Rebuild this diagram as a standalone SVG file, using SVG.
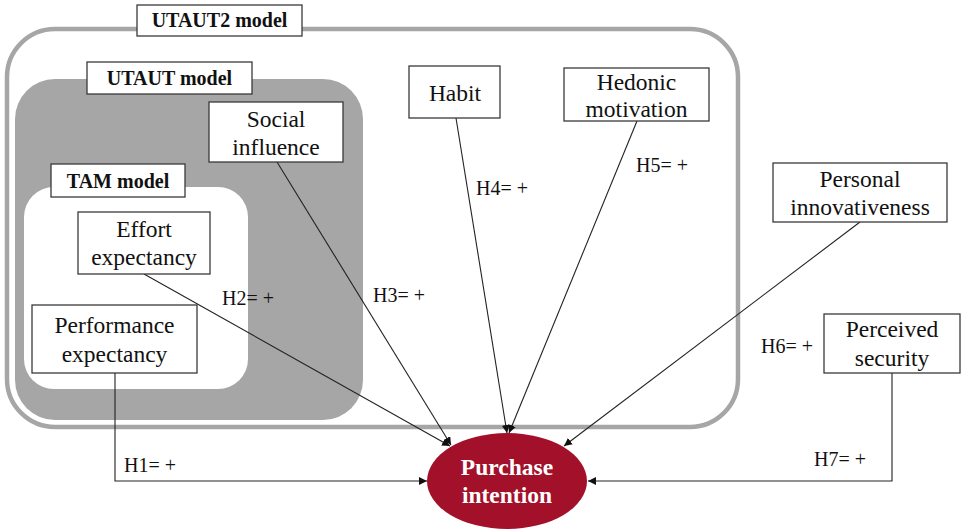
<svg xmlns="http://www.w3.org/2000/svg" width="964" height="532" viewBox="0 0 964 532">
  <defs>
    <style>
      .box { fill: #ffffff; stroke: #3a3a3a; stroke-width: 1.3; }
      .serif { font-family: "Liberation Serif", Tinos, "Times New Roman", Times, "Nimbus Roman", "DejaVu Serif", serif; }
      .lbl { font-size: 20px; font-weight: bold; fill: #111; text-anchor: middle; }
      .txt { font-size: 23.5px; fill: #111; text-anchor: middle; }
      .hyp { font-size: 20px; fill: #111; }
      .conn { fill: none; stroke: #222; stroke-width: 1.1; marker-end: url(#arrow); }
      .pi { font-size: 23.5px; font-weight: bold; fill: #ffffff; text-anchor: middle; }
    </style>
    <marker id="arrow" viewBox="0 0 10 10" refX="10" refY="5" markerWidth="8" markerHeight="8" markerUnits="userSpaceOnUse" orient="auto">
      <path d="M0,0 L10,5 L0,10 z" fill="#111"/>
    </marker>
  </defs>
  <rect width="964" height="532" fill="#ffffff"/>

  <g id="containers">
    <rect id="utaut2-frame" x="7" y="29" width="731" height="398" rx="48" ry="48" fill="none" stroke="#a6a6a6" stroke-width="4.5"/>
    <rect id="utaut-frame" x="15" y="79" width="348" height="341" rx="40" ry="40" fill="#a6a6a6"/>
    <rect id="tam-frame" x="24" y="187" width="224" height="202" rx="30" ry="30" fill="#ffffff"/>
  </g>

  <g class="serif">
  <g id="utaut2-label">
    <rect class="box" x="137" y="5" width="165" height="31"/>
    <text class="lbl" x="219.5" y="27">UTAUT2 model</text>
  </g>
  <g id="utaut-label">
    <rect class="box" x="87" y="62" width="165" height="32"/>
    <text class="lbl" x="169.5" y="85">UTAUT model</text>
  </g>
  <g id="tam-label">
    <rect class="box" x="51" y="164" width="134" height="33"/>
    <text class="lbl" x="118" y="188">TAM model</text>
  </g>

  <g id="connectors">
    <path class="conn" d="M115,373 L115,481 L427,481"/>
    <path class="conn" d="M144,274 L450,446"/>
    <path class="conn" d="M277,162 L451,445"/>
    <path class="conn" d="M456,118 L507,433"/>
    <path class="conn" d="M637,121 L509,433"/>
    <path class="conn" d="M860,222 L564,446"/>
    <path class="conn" d="M892,373 L892,481 L588,481"/>
    <text class="hyp" x="124" y="472">H1= +</text>
    <text class="hyp" x="222" y="305">H2= +</text>
    <text class="hyp" x="373" y="302">H3= +</text>
    <text class="hyp" x="476" y="195">H4= +</text>
    <text class="hyp" x="636" y="172">H5= +</text>
    <text class="hyp" x="761" y="353">H6= +</text>
    <text class="hyp" x="814" y="466">H7= +</text>
  </g>

  <g id="social-influence">
    <rect class="box" x="209" y="102" width="134" height="60"/>
    <text class="txt" x="276" y="127">Social</text>
    <text class="txt" x="276" y="155">influence</text>
  </g>
  <g id="effort-expectancy">
    <rect class="box" x="78" y="212" width="132" height="62"/>
    <text class="txt" x="144" y="237">Effort</text>
    <text class="txt" x="144" y="265">expectancy</text>
  </g>
  <g id="performance-expectancy">
    <rect class="box" x="32" y="305" width="165" height="68"/>
    <text class="txt" x="114.5" y="333">Performance</text>
    <text class="txt" x="114.5" y="362">expectancy</text>
  </g>
  <g id="habit">
    <rect class="box" x="409" y="66" width="91" height="52"/>
    <text class="txt" x="455" y="101">Habit</text>
  </g>
  <g id="hedonic-motivation">
    <rect class="box" x="564" y="68" width="145" height="53"/>
    <text class="txt" x="636.5" y="90">Hedonic</text>
    <text class="txt" x="636.5" y="117">motivation</text>
  </g>
  <g id="personal-innovativeness">
    <rect class="box" x="773" y="163" width="174" height="59"/>
    <text class="txt" x="860" y="187">Personal</text>
    <text class="txt" x="860" y="215">innovativeness</text>
  </g>
  <g id="perceived-security">
    <rect class="box" x="824" y="314" width="136" height="59"/>
    <text class="txt" x="892" y="337">Perceived</text>
    <text class="txt" x="892" y="366">security</text>
  </g>
  <g id="purchase-intention">
    <ellipse cx="507" cy="481" rx="80" ry="48" fill="#a3102a"/>
    <text class="pi" x="507" y="475">Purchase</text>
    <text class="pi" x="507" y="503">intention</text>
  </g>
  </g>
</svg>
